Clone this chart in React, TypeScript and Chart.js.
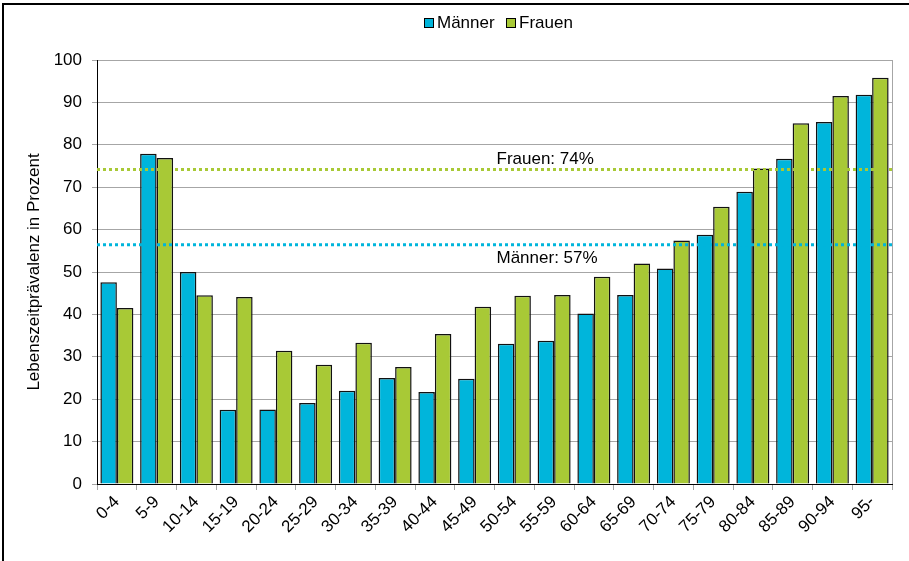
import React, { useEffect, useRef } from "react";
import { Chart, registerables } from "chart.js";

Chart.register(...registerables);

const categories = ["0-4", "5-9", "10-14", "15-19", "20-24", "25-29", "30-34", "35-39", "40-44", "45-49", "50-54", "55-59", "60-64", "65-69", "70-74", "75-79", "80-84", "85-89", "90-94", "95-"];
const maenner = [47.6, 77.9, 50.0, 17.5, 17.6, 19.1, 22.0, 25.0, 21.7, 24.8, 33.1, 33.8, 40.2, 44.6, 50.8, 58.8, 68.9, 76.7, 85.4, 91.8];
const frauen = [41.5, 76.9, 44.5, 44.1, 31.4, 28.1, 33.3, 27.6, 35.4, 41.8, 44.4, 44.6, 48.9, 52.0, 57.4, 65.4, 74.4, 85.1, 91.5, 95.8];
const seriesNames = ["Männer", "Frauen"];
const averages = [56.4, 74.2];
const averageLabels = ["Männer: 57%", "Frauen: 74%"];
const yTitle = "Lebenszeitprävalenz in Prozent";

const BLUE = "#00B5DB";
const GREEN = "#A8C936";
const GRID = "#A6A6A6";
const FONT = "'Liberation Sans', Arial, sans-serif";
const FS = 17;

const overlay = {
  id: "overlay",
  afterDatasetsDraw(chart: any) {
    const ctx = chart.ctx;
    const { left, right, top, bottom } = chart.chartArea;
    const y = chart.scales.y;
    ctx.save();
    // right plot border
    ctx.strokeStyle = GRID;
    ctx.lineWidth = 1;
    ctx.beginPath();
    ctx.moveTo(Math.round(right) + 0.5, top);
    ctx.lineTo(Math.round(right) + 0.5, bottom);
    ctx.stroke();
    // average lines
    const cols = [BLUE, GREEN];
    averages.forEach((v, i) => {
      const py = y.getPixelForValue(v);
      ctx.strokeStyle = cols[i];
      ctx.lineWidth = 3;
      ctx.setLineDash([3, 3]);
      ctx.beginPath();
      ctx.moveTo(left, py);
      ctx.lineTo(right, py);
      ctx.stroke();
    });
    ctx.setLineDash([]);
    ctx.fillStyle = "#000";
    ctx.font = `${FS}px ${FONT}`;
    ctx.textBaseline = "middle";
    ctx.textAlign = "left";
    const lx = (left + right) / 2 + 2;
    ctx.fillText(averageLabels[1], lx, y.getPixelForValue(averages[1]) - 10);
    ctx.fillText(averageLabels[0], lx, y.getPixelForValue(averages[0]) + 13);
    ctx.restore();
  },
  afterDraw(chart: any) {
    const ctx = chart.ctx;
    const { top, bottom } = chart.chartArea;
    ctx.save();
    // frame
    ctx.fillStyle = "#000";
    ctx.fillRect(2, 3, chart.width, 2);
    ctx.fillRect(2, 3, 2, chart.height);
    // y title
    ctx.font = `${FS}px ${FONT}`;
    ctx.textAlign = "center";
    ctx.textBaseline = "middle";
    ctx.translate(34, (top + bottom) / 2);
    ctx.rotate(-Math.PI / 2);
    ctx.fillText(yTitle, 0, 0);
    ctx.restore();
    // legend
    ctx.save();
    ctx.font = `${FS}px ${FONT}`;
    ctx.textBaseline = "middle";
    ctx.textAlign = "left";
    const cols = [BLUE, GREEN];
    const xs = [424, 506];
    seriesNames.forEach((n, i) => {
      ctx.fillStyle = cols[i];
      ctx.fillRect(xs[i], 18, 9, 9);
      ctx.strokeStyle = "#000";
      ctx.lineWidth = 1;
      ctx.strokeRect(xs[i] + 0.5, 18.5, 9, 9);
      ctx.fillStyle = "#000";
      ctx.fillText(n, xs[i] + 13, 23);
    });
    ctx.restore();
  },
};

export default function App() {
  const ref = useRef<HTMLCanvasElement>(null);
  useEffect(() => {
    document.body.style.margin = "0";
    const chart = new Chart(ref.current!, {
      type: "bar",
      data: {
        labels: categories,
        datasets: [
          { label: seriesNames[0], data: maenner, backgroundColor: BLUE, borderColor: "#111", borderWidth: 1.5 },
          { label: seriesNames[1], data: frauen, backgroundColor: GREEN, borderColor: "#111", borderWidth: 1.5 },
        ],
      },
      options: {
        animation: false,
        responsive: false,
        devicePixelRatio: 1,
        layout: { padding: { top: 60, right: 17, left: 0, bottom: 0 } },
        datasets: { bar: { categoryPercentage: 0.83, barPercentage: 1 } },
        plugins: { legend: { display: false }, tooltip: { enabled: false } },
        scales: {
          x: {
            afterFit: (s: any) => { s.height = 77; },
            border: { color: "#000", width: 1 },
            grid: { offset: true, drawOnChartArea: false, drawTicks: true, tickLength: 6, color: GRID },
            ticks: { minRotation: 45, maxRotation: 45, color: "#000", font: { family: FONT, size: FS }, padding: 2 },
          },
          y: {
            min: 0,
            max: 100,
            afterFit: (s: any) => { s.width = 97; },
            border: { color: "#000", width: 1 },
            grid: { color: GRID, tickLength: 5 },
            ticks: { stepSize: 10, color: "#000", font: { family: FONT, size: FS }, padding: 10 },
          },
        },
      },
      plugins: [overlay],
    });
    return () => chart.destroy();
  }, []);
  return (
    <div style={{ position: "absolute", left: 0, top: 0, width: 909, height: 561, background: "#fff" }}>
      <canvas ref={ref} width={909} height={561} />
    </div>
  );
}
